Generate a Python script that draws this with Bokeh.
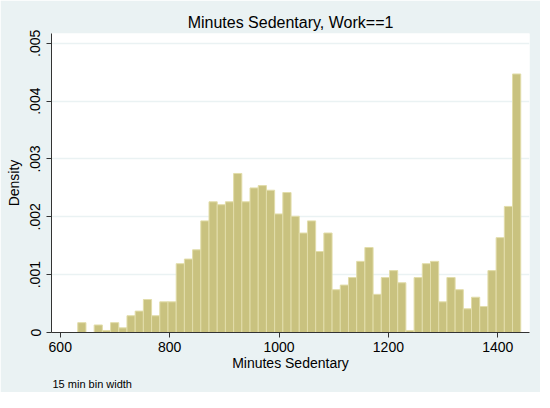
import numpy as np
from bokeh.plotting import figure
from bokeh.models import FixedTicker, CustomJSTickFormatter, Title, ColumnDataSource, Range1d
from bokeh.embed import file_html
from bokeh.resources import INLINE

# ---- data ----
BIN_START = 632
BIN_WIDTH = 15
density = [
    0.00017, 0.0, 0.00013, 0.000035, 0.00017, 0.00008, 0.00029, 0.00037, 0.00057, 0.00029,
    0.00053, 0.00053, 0.00119, 0.00127, 0.00143, 0.00193, 0.00226, 0.00221, 0.00226, 0.00275,
    0.00226, 0.00250, 0.00254, 0.00246, 0.00205, 0.00242, 0.00201, 0.00172, 0.00193, 0.00140,
    0.00172, 0.00074, 0.00082, 0.00095, 0.00123, 0.00147, 0.00066, 0.00095, 0.00107, 0.00086,
    0.000035, 0.00095, 0.00119, 0.00123, 0.00053, 0.00095, 0.00074, 0.00041, 0.00061, 0.00045,
    0.00107, 0.00164, 0.00218, 0.00447,
]
x_ticks = [600, 800, 1000, 1200, 1400]
y_ticks = [0, 0.001, 0.002, 0.003, 0.004, 0.005]
title_text = "Minutes Sedentary, Work==1"
x_label = "Minutes Sedentary"
y_label = "Density"
note_text = "15 min bin width"

# ---- build ----
left = BIN_START + BIN_WIDTH * np.arange(len(density))
src = ColumnDataSource(dict(left=left, right=left + BIN_WIDTH, top=density, bottom=[0] * len(density)))

BG = "#EAF2F3"
FONT = "Liberation Sans"

p = figure(width=540, height=392, output_backend="svg", toolbar_location=None,
           x_range=Range1d(584, 1458), y_range=Range1d(0, 0.00517),
           min_border_left=51, min_border_right=11, min_border_top=33, min_border_bottom=59)
p.border_fill_color = BG
p.background_fill_color = "white"
p.outline_line_color = None

p.title.text = title_text
p.title.align = "center"
p.title.text_font = FONT
p.title.text_font_size = "16px"
p.title.text_font_style = "normal"
p.title.text_color = "black"
p.title.standoff = 5

p.quad(left="left", right="right", top="top", bottom="bottom", source=src,
       fill_color="#C9C27F", line_color="#E2DDAA", line_width=1)

p.xgrid.visible = False
p.ygrid.ticker = FixedTicker(ticks=y_ticks)
p.ygrid.grid_line_color = BG
p.ygrid.grid_line_width = 1.5

for ax in (p.xaxis[0], p.yaxis[0]):
    ax.axis_line_color = "#333333"
    ax.major_tick_line_color = "#333333"
    ax.major_tick_out = 5
    ax.major_tick_in = 0
    ax.minor_tick_line_color = None
    ax.major_label_text_font = FONT
    ax.major_label_text_font_size = "14px"
    ax.major_label_text_color = "black"
    ax.axis_label_text_font = FONT
    ax.axis_label_text_font_size = "14px"
    ax.axis_label_text_font_style = "normal"
    ax.axis_label_text_color = "black"

p.xaxis.ticker = FixedTicker(ticks=x_ticks)
p.xaxis.axis_label = x_label
p.xaxis.major_label_standoff = 4
p.xaxis.axis_label_standoff = 0

p.yaxis.ticker = FixedTicker(ticks=y_ticks)
p.yaxis.formatter = CustomJSTickFormatter(
    code="return tick == 0 ? '0' : tick.toFixed(3).replace(/^0/, '');")
p.yaxis.major_label_orientation = "vertical"
p.yaxis.axis_label = y_label
p.yaxis.major_label_standoff = 6
p.yaxis.axis_label_standoff = 6

note = Title(text=note_text, align="left", offset=1, standoff=5,
             text_font=FONT, text_font_size="11px", text_font_style="normal",
             text_color="black")
p.add_layout(note, "below")

open("out.html", "w").write(file_html(p, INLINE))
